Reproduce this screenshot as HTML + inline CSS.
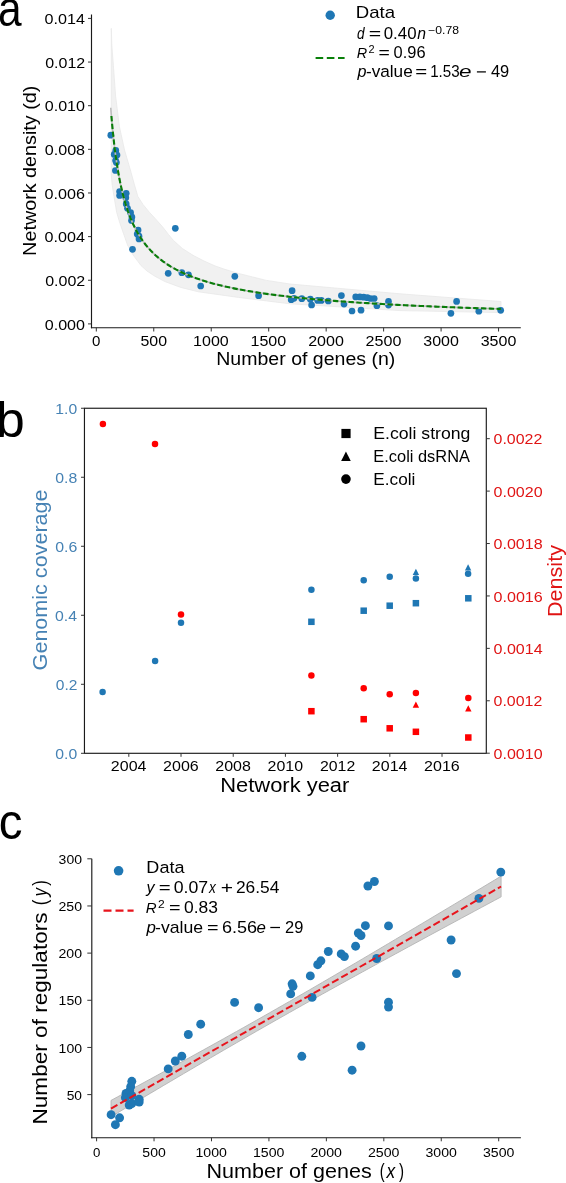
<!DOCTYPE html>
<html><head><meta charset="utf-8"><style>
html,body{margin:0;padding:0;background:#fff;}
svg{display:block;will-change:transform;}
text{font-family:"Liberation Sans",sans-serif;}
</style></head><body>
<svg width="566" height="1183" viewBox="0 0 566 1183">
<rect width="566" height="1183" fill="#fff"/>
<text x="-1.95" y="26.2" font-size="49.26" textLength="23.6" lengthAdjust="spacingAndGlyphs" fill="#000" style="">a</text>
<polygon points="111.3,28.4 111.8,45 113.4,65.7 115.6,96 119.4,126.5 124.5,150 130.4,170 134.5,185 137.9,196.5 143,204.5 149.5,212.4 157,220.5 163.5,228 168.5,234.5 173.5,240.5 182.4,248.5 193,255.3 204,261 215,265.9 224.1,269.1 238.3,273.4 252.4,276.9 266.5,280.4 290,284 400,293.8 501,301.5 501,312.6 400,310.6 290,303.8 266.5,300.9 238.3,297.4 210,293.4 198.3,291.8 180.7,287.4 165,281.6 154.8,276.2 147,271 141,265.6 133.1,255 127.5,245 123.6,233.8 119.5,222 116.7,212.4 114,196.5 112.2,185 111.3,175" fill="#f1f1f1" stroke="#e9e9e9" stroke-width="0.8"/>
<circle cx="110.8" cy="135.2" r="3.35" fill="#1f77b4"/>
<circle cx="115.8" cy="150.4" r="3.35" fill="#1f77b4"/>
<circle cx="114.2" cy="154.4" r="3.35" fill="#1f77b4"/>
<circle cx="117" cy="155" r="3.35" fill="#1f77b4"/>
<circle cx="115.6" cy="160.6" r="3.35" fill="#1f77b4"/>
<circle cx="116.4" cy="162.6" r="3.35" fill="#1f77b4"/>
<circle cx="115.4" cy="170.5" r="3.35" fill="#1f77b4"/>
<circle cx="119.6" cy="191.5" r="3.35" fill="#1f77b4"/>
<circle cx="119.6" cy="195.5" r="3.35" fill="#1f77b4"/>
<circle cx="126.2" cy="193.3" r="3.35" fill="#1f77b4"/>
<circle cx="125.8" cy="197.7" r="3.35" fill="#1f77b4"/>
<circle cx="126.2" cy="203.9" r="3.35" fill="#1f77b4"/>
<circle cx="127.5" cy="208.3" r="3.35" fill="#1f77b4"/>
<circle cx="130.6" cy="212.7" r="3.35" fill="#1f77b4"/>
<circle cx="131.9" cy="217.1" r="3.35" fill="#1f77b4"/>
<circle cx="131.5" cy="220.5" r="3.35" fill="#1f77b4"/>
<circle cx="138.1" cy="230" r="3.35" fill="#1f77b4"/>
<circle cx="137.2" cy="234" r="3.35" fill="#1f77b4"/>
<circle cx="139" cy="236.2" r="3.35" fill="#1f77b4"/>
<circle cx="139" cy="238.9" r="3.35" fill="#1f77b4"/>
<circle cx="132.5" cy="249.3" r="3.35" fill="#1f77b4"/>
<circle cx="175.3" cy="228.3" r="3.35" fill="#1f77b4"/>
<circle cx="168.2" cy="273.3" r="3.35" fill="#1f77b4"/>
<circle cx="181.8" cy="272.7" r="3.35" fill="#1f77b4"/>
<circle cx="188.5" cy="274.8" r="3.35" fill="#1f77b4"/>
<circle cx="200.7" cy="286" r="3.35" fill="#1f77b4"/>
<circle cx="234.8" cy="276.3" r="3.35" fill="#1f77b4"/>
<circle cx="258.6" cy="295.7" r="3.35" fill="#1f77b4"/>
<circle cx="292.1" cy="290.7" r="3.35" fill="#1f77b4"/>
<circle cx="291.2" cy="299.7" r="3.35" fill="#1f77b4"/>
<circle cx="294" cy="298.3" r="3.35" fill="#1f77b4"/>
<circle cx="301.8" cy="298.7" r="3.35" fill="#1f77b4"/>
<circle cx="310.3" cy="299.2" r="3.35" fill="#1f77b4"/>
<circle cx="311.6" cy="305" r="3.35" fill="#1f77b4"/>
<circle cx="317.7" cy="300.4" r="3.35" fill="#1f77b4"/>
<circle cx="321.3" cy="300.4" r="3.35" fill="#1f77b4"/>
<circle cx="328.3" cy="301" r="3.35" fill="#1f77b4"/>
<circle cx="341.4" cy="295.6" r="3.35" fill="#1f77b4"/>
<circle cx="344" cy="304.1" r="3.35" fill="#1f77b4"/>
<circle cx="352" cy="311" r="3.35" fill="#1f77b4"/>
<circle cx="361" cy="310.2" r="3.35" fill="#1f77b4"/>
<circle cx="355.7" cy="296.9" r="3.35" fill="#1f77b4"/>
<circle cx="359.9" cy="296.9" r="3.35" fill="#1f77b4"/>
<circle cx="363.6" cy="297.2" r="3.35" fill="#1f77b4"/>
<circle cx="367.3" cy="297.7" r="3.35" fill="#1f77b4"/>
<circle cx="370.5" cy="298.5" r="3.35" fill="#1f77b4"/>
<circle cx="374.2" cy="298.5" r="3.35" fill="#1f77b4"/>
<circle cx="376.9" cy="305.7" r="3.35" fill="#1f77b4"/>
<circle cx="388.5" cy="301.4" r="3.35" fill="#1f77b4"/>
<circle cx="388.5" cy="305.1" r="3.35" fill="#1f77b4"/>
<circle cx="456.6" cy="301.4" r="3.35" fill="#1f77b4"/>
<circle cx="450.9" cy="313.3" r="3.35" fill="#1f77b4"/>
<circle cx="478.8" cy="311.2" r="3.35" fill="#1f77b4"/>
<circle cx="500.7" cy="310.3" r="3.35" fill="#1f77b4"/>
<polyline points="110.75,107.8 110.93,110.13 111.11,112.4 111.29,114.62 111.47,116.78 111.65,118.89 111.83,120.96 112.01,122.97 112.19,124.94 112.37,126.86 112.55,128.74 112.73,130.58 112.92,132.37 113.1,134.13 113.28,135.86 113.46,137.54 113.64,139.19 113.82,140.81 114,142.39 114.18,143.95 114.36,145.47 114.54,146.96 114.72,148.42 114.9,149.86 115.08,151.27 115.26,152.65 115.44,154 115.62,155.34 115.8,156.64 115.98,157.93 116.16,159.19 116.34,160.43 116.52,161.64 116.7,162.84 116.88,164.01 117.06,165.17 117.24,166.31 117.42,167.42 117.6,168.52 117.79,169.6 117.97,170.67 118.15,171.71 118.33,172.75 118.51,173.76 118.69,174.76 118.87,175.74 119.05,176.71 119.23,177.66 119.41,178.6 119.59,179.53 119.77,180.44 119.95,181.34 120.13,182.22 120.31,183.09 120.49,183.95 120.67,184.8 120.85,185.64 121.03,186.46 121.21,187.27 121.39,188.08 121.57,188.87 121.75,189.65 121.93,190.42 122.11,191.18 122.29,191.93 122.47,192.67 122.66,193.4 122.84,194.12 123.02,194.83 123.2,195.53 123.38,196.22 123.56,196.91 123.74,197.59 123.92,198.25 124.1,198.91 124.28,199.57 124.46,200.21 124.64,200.85 124.82,201.47 125,202.1 125.5,203.78 128.02,211.51 130.54,218.17 133.06,223.98 135.58,229.1 138.1,233.65 140.62,237.73 143.14,241.4 145.66,244.73 148.18,247.76 150.69,250.54 153.21,253.1 155.73,255.46 158.25,257.64 160.77,259.67 163.29,261.57 165.81,263.34 168.33,265 170.85,266.56 173.37,268.02 175.89,269.41 178.41,270.72 180.93,271.95 183.45,273.13 185.97,274.24 188.49,275.31 191.01,276.32 193.53,277.28 196.04,278.2 198.56,279.08 201.08,279.93 203.6,280.74 206.12,281.51 208.64,282.26 211.16,282.97 213.68,283.66 216.2,284.32 218.72,284.96 221.24,285.58 223.76,286.17 226.28,286.74 228.8,287.3 231.32,287.84 233.84,288.35 236.36,288.86 238.88,289.34 241.4,289.82 243.91,290.27 246.43,290.72 248.95,291.15 251.47,291.57 253.99,291.98 256.51,292.37 259.03,292.76 261.55,293.13 264.07,293.5 266.59,293.85 269.11,294.2 271.63,294.54 274.15,294.86 276.67,295.19 279.19,295.5 281.71,295.81 284.23,296.1 286.75,296.4 289.27,296.68 291.78,296.96 294.3,297.23 296.82,297.5 299.34,297.76 301.86,298.01 304.38,298.26 306.9,298.51 309.42,298.75 311.94,298.98 314.46,299.21 316.98,299.44 319.5,299.66 322.02,299.87 324.54,300.08 327.06,300.29 329.58,300.5 332.1,300.7 334.62,300.89 337.13,301.09 339.65,301.28 342.17,301.46 344.69,301.64 347.21,301.82 349.73,302 352.25,302.17 354.77,302.34 357.29,302.51 359.81,302.68 362.33,302.84 364.85,303 367.37,303.15 369.89,303.31 372.41,303.46 374.93,303.61 377.45,303.76 379.97,303.9 382.49,304.04 385,304.18 387.52,304.32 390.04,304.46 392.56,304.59 395.08,304.72 397.6,304.85 400.12,304.98 402.64,305.11 405.16,305.23 407.68,305.36 410.2,305.48 412.72,305.6 415.24,305.72 417.76,305.83 420.28,305.95 422.8,306.06 425.32,306.17 427.84,306.28 430.36,306.39 432.87,306.5 435.39,306.6 437.91,306.71 440.43,306.81 442.95,306.91 445.47,307.01 447.99,307.11 450.51,307.21 453.03,307.31 455.55,307.4 458.07,307.5 460.59,307.59 463.11,307.68 465.63,307.78 468.15,307.87 470.67,307.95 473.19,308.04 475.71,308.13 478.22,308.22 480.74,308.3 483.26,308.38 485.78,308.47 488.3,308.55 490.82,308.63 493.34,308.71 495.86,308.79 498.38,308.87 500.9,308.95" fill="none" stroke="#bdbdbd" stroke-width="1.6"/>
<polyline points="111.41,116 111.58,118.03 111.75,120.02 111.92,121.96 112.09,123.86 112.27,125.72 112.44,127.54 112.61,129.32 112.78,131.06 112.96,132.77 113.13,134.44 113.3,136.08 113.47,137.68 113.64,139.25 113.82,140.8 113.99,142.31 114.16,143.79 114.33,145.25 114.5,146.68 114.68,148.08 114.85,149.45 115.02,150.8 115.19,152.13 115.36,153.43 115.54,154.71 115.71,155.97 115.88,157.21 116.05,158.42 116.22,159.62 116.4,160.79 116.57,161.95 116.74,163.09 116.91,164.2 117.08,165.3 117.26,166.39 117.43,167.45 117.6,168.5 117.77,169.53 117.95,170.55 118.12,171.55 118.29,172.54 118.46,173.51 118.63,174.46 118.81,175.4 118.98,176.33 119.15,177.25 119.32,178.15 119.49,179.04 119.67,179.92 119.84,180.78 120.01,181.63 120.18,182.47 120.35,183.3 120.53,184.12 120.7,184.93 120.87,185.72 121.04,186.51 121.21,187.28 121.39,188.05 121.56,188.8 121.73,189.55 121.9,190.29 122.07,191.01 122.25,191.73 122.42,192.44 122.59,193.14 122.76,193.83 122.94,194.51 123.11,195.18 123.28,195.85 123.45,196.51 123.62,197.16 123.8,197.8 123.97,198.44 124.14,199.06 124.31,199.68 124.48,200.3 124.66,200.9 124.83,201.5 125,202.1 125.5,203.78 128.02,211.51 130.54,218.17 133.06,223.98 135.58,229.1 138.1,233.65 140.62,237.73 143.14,241.4 145.66,244.73 148.18,247.76 150.69,250.54 153.21,253.1 155.73,255.46 158.25,257.64 160.77,259.67 163.29,261.57 165.81,263.34 168.33,265 170.85,266.56 173.37,268.02 175.89,269.41 178.41,270.72 180.93,271.95 183.45,273.13 185.97,274.24 188.49,275.31 191.01,276.32 193.53,277.28 196.04,278.2 198.56,279.08 201.08,279.93 203.6,280.74 206.12,281.51 208.64,282.26 211.16,282.97 213.68,283.66 216.2,284.32 218.72,284.96 221.24,285.58 223.76,286.17 226.28,286.74 228.8,287.3 231.32,287.84 233.84,288.35 236.36,288.86 238.88,289.34 241.4,289.82 243.91,290.27 246.43,290.72 248.95,291.15 251.47,291.57 253.99,291.98 256.51,292.37 259.03,292.76 261.55,293.13 264.07,293.5 266.59,293.85 269.11,294.2 271.63,294.54 274.15,294.86 276.67,295.19 279.19,295.5 281.71,295.81 284.23,296.1 286.75,296.4 289.27,296.68 291.78,296.96 294.3,297.23 296.82,297.5 299.34,297.76 301.86,298.01 304.38,298.26 306.9,298.51 309.42,298.75 311.94,298.98 314.46,299.21 316.98,299.44 319.5,299.66 322.02,299.87 324.54,300.08 327.06,300.29 329.58,300.5 332.1,300.7 334.62,300.89 337.13,301.09 339.65,301.28 342.17,301.46 344.69,301.64 347.21,301.82 349.73,302 352.25,302.17 354.77,302.34 357.29,302.51 359.81,302.68 362.33,302.84 364.85,303 367.37,303.15 369.89,303.31 372.41,303.46 374.93,303.61 377.45,303.76 379.97,303.9 382.49,304.04 385,304.18 387.52,304.32 390.04,304.46 392.56,304.59 395.08,304.72 397.6,304.85 400.12,304.98 402.64,305.11 405.16,305.23 407.68,305.36 410.2,305.48 412.72,305.6 415.24,305.72 417.76,305.83 420.28,305.95 422.8,306.06 425.32,306.17 427.84,306.28 430.36,306.39 432.87,306.5 435.39,306.6 437.91,306.71 440.43,306.81 442.95,306.91 445.47,307.01 447.99,307.11 450.51,307.21 453.03,307.31 455.55,307.4 458.07,307.5 460.59,307.59 463.11,307.68 465.63,307.78 468.15,307.87 470.67,307.95 473.19,308.04 475.71,308.13 478.22,308.22 480.74,308.3 483.26,308.38 485.78,308.47 488.3,308.55 490.82,308.63 493.34,308.71 495.86,308.79 498.38,308.87 500.9,308.95" fill="none" stroke="#0a7d0a" stroke-width="2.1" stroke-dasharray="5.4 2.4"/>
<line x1="91.5" y1="14.6" x2="91.5" y2="328.3" stroke="#1a1a1a" stroke-width="1.15" />
<line x1="90.9" y1="327.7" x2="520.8" y2="327.7" stroke="#1a1a1a" stroke-width="1.15" />
<line x1="88" y1="323.9" x2="91.5" y2="323.9" stroke="#333" stroke-width="1" />
<text x="44.72" y="329.5" font-size="15.12" textLength="40.29" lengthAdjust="spacingAndGlyphs" fill="#000" style="">0.000</text>
<line x1="88" y1="280.26" x2="91.5" y2="280.26" stroke="#333" stroke-width="1" />
<text x="45.22" y="285.86" font-size="15.12" textLength="40.02" lengthAdjust="spacingAndGlyphs" fill="#000" style="">0.002</text>
<line x1="88" y1="236.62" x2="91.5" y2="236.62" stroke="#333" stroke-width="1" />
<text x="44.57" y="242.22" font-size="15.12" textLength="40.35" lengthAdjust="spacingAndGlyphs" fill="#000" style="">0.004</text>
<line x1="88" y1="192.98" x2="91.5" y2="192.98" stroke="#333" stroke-width="1" />
<text x="44.64" y="198.58" font-size="15.12" textLength="40.44" lengthAdjust="spacingAndGlyphs" fill="#000" style="">0.006</text>
<line x1="88" y1="149.34" x2="91.5" y2="149.34" stroke="#333" stroke-width="1" />
<text x="44.72" y="154.94" font-size="15.12" textLength="40.37" lengthAdjust="spacingAndGlyphs" fill="#000" style="">0.008</text>
<line x1="88" y1="105.7" x2="91.5" y2="105.7" stroke="#333" stroke-width="1" />
<text x="44.72" y="111.3" font-size="15.12" textLength="40.29" lengthAdjust="spacingAndGlyphs" fill="#000" style="">0.010</text>
<line x1="88" y1="62.06" x2="91.5" y2="62.06" stroke="#333" stroke-width="1" />
<text x="45.22" y="67.66" font-size="15.12" textLength="40.02" lengthAdjust="spacingAndGlyphs" fill="#000" style="">0.012</text>
<line x1="88" y1="18.42" x2="91.5" y2="18.42" stroke="#333" stroke-width="1" />
<text x="44.57" y="24.02" font-size="15.12" textLength="40.35" lengthAdjust="spacingAndGlyphs" fill="#000" style="">0.014</text>
<line x1="96.3" y1="327.7" x2="96.3" y2="331.5" stroke="#333" stroke-width="1" />
<text x="92.09" y="345.8" font-size="15.12" textLength="8.37" lengthAdjust="spacingAndGlyphs" fill="#000" style="">0</text>
<line x1="153.76" y1="327.7" x2="153.76" y2="331.5" stroke="#333" stroke-width="1" />
<text x="140.47" y="345.8" font-size="15.12" textLength="26.56" lengthAdjust="spacingAndGlyphs" fill="#000" style="">500</text>
<line x1="211.23" y1="327.7" x2="211.23" y2="331.5" stroke="#333" stroke-width="1" />
<text x="193.08" y="345.8" font-size="15.12" textLength="35.65" lengthAdjust="spacingAndGlyphs" fill="#000" style="">1000</text>
<line x1="268.69" y1="327.7" x2="268.69" y2="331.5" stroke="#333" stroke-width="1" />
<text x="250.55" y="345.8" font-size="15.12" textLength="35.65" lengthAdjust="spacingAndGlyphs" fill="#000" style="">1500</text>
<line x1="326.16" y1="327.7" x2="326.16" y2="331.5" stroke="#333" stroke-width="1" />
<text x="308.16" y="345.8" font-size="15.12" textLength="35.75" lengthAdjust="spacingAndGlyphs" fill="#000" style="">2000</text>
<line x1="383.62" y1="327.7" x2="383.62" y2="331.5" stroke="#333" stroke-width="1" />
<text x="365.62" y="345.8" font-size="15.12" textLength="35.75" lengthAdjust="spacingAndGlyphs" fill="#000" style="">2500</text>
<line x1="441.09" y1="327.7" x2="441.09" y2="331.5" stroke="#333" stroke-width="1" />
<text x="423.25" y="345.8" font-size="15.12" textLength="35.59" lengthAdjust="spacingAndGlyphs" fill="#000" style="">3000</text>
<line x1="498.55" y1="327.7" x2="498.55" y2="331.5" stroke="#333" stroke-width="1" />
<text x="480.72" y="345.8" font-size="15.12" textLength="35.59" lengthAdjust="spacingAndGlyphs" fill="#000" style="">3500</text>
<text x="216.24" y="365.3" font-size="18.03" textLength="179.16" lengthAdjust="spacingAndGlyphs" fill="#000" style="">Number of genes (n)</text>
<text transform="translate(36.1 254.3) rotate(-90)" x="-1.58" y="0" font-size="18.03" textLength="170.25" lengthAdjust="spacingAndGlyphs" fill="#000" style="">Network density (d)</text>
<circle cx="330.2" cy="15.3" r="4.7" fill="#1f77b4"/>
<text x="355.71" y="17.9" font-size="16.4" textLength="39.33" lengthAdjust="spacingAndGlyphs" fill="#000" style="">Data</text>
<line x1="315.6" y1="58.0" x2="344.6" y2="58.0" stroke="#0a800a" stroke-width="2.1" stroke-dasharray="7.6 3.6"/>
<text x="357.02" y="39.2" font-size="16.25" textLength="7.58" lengthAdjust="spacingAndGlyphs" fill="#000" style="font-style:italic;">d</text>
<text x="368.74" y="39.2" font-size="14.23" textLength="12.4" lengthAdjust="spacingAndGlyphs" fill="#000" style="">=</text>
<text x="383.73" y="39.2" font-size="16.39" textLength="32.79" lengthAdjust="spacingAndGlyphs" fill="#000" style="">0.40</text>
<text x="417.36" y="39.2" font-size="16.07" textLength="8.76" lengthAdjust="spacingAndGlyphs" fill="#000" style="font-style:italic;">n</text>
<text x="428.19" y="34" font-size="10.15" textLength="30.9" lengthAdjust="spacingAndGlyphs" fill="#000" style="">−0.78</text>
<text x="356.87" y="58.4" font-size="15.13" textLength="10.4" lengthAdjust="spacingAndGlyphs" fill="#000" style="font-style:italic;">R</text>
<text x="368.45" y="52.5" font-size="10.78" textLength="6.11" lengthAdjust="spacingAndGlyphs" fill="#000" style="">2</text>
<text x="378.43" y="58.4" font-size="14.23" textLength="11.32" lengthAdjust="spacingAndGlyphs" fill="#000" style="">=</text>
<text x="393.64" y="58.4" font-size="16.39" textLength="31.93" lengthAdjust="spacingAndGlyphs" fill="#000" style="">0.96</text>
<text x="357.5" y="76.6" font-size="16.07" textLength="9" lengthAdjust="spacingAndGlyphs" fill="#000" style="font-style:italic;">p</text>
<text x="365.93" y="76.6" font-size="16.25" textLength="46.83" lengthAdjust="spacingAndGlyphs" fill="#000" style="">-value</text>
<text x="415.18" y="76.6" font-size="14.23" textLength="11.92" lengthAdjust="spacingAndGlyphs" fill="#000" style="">=</text>
<text x="430.16" y="76.6" font-size="16.39" textLength="29.46" lengthAdjust="spacingAndGlyphs" fill="#000" style="">1.53</text>
<text x="459.11" y="76.6" font-size="16.07" textLength="12.5" lengthAdjust="spacingAndGlyphs" fill="#000" style="font-style:italic;">e</text>
<line x1="476.9" y1="71.9" x2="485.9" y2="71.9" stroke="#000" stroke-width="1.25" />
<text x="490.97" y="76.6" font-size="16.39" textLength="18.31" lengthAdjust="spacingAndGlyphs" fill="#000" style="">49</text>
<text x="-4.14" y="437" font-size="49.79" textLength="28.77" lengthAdjust="spacingAndGlyphs" fill="#000" style="">b</text>
<circle cx="102.6" cy="692" r="3.25" fill="#1f77b4"/>
<circle cx="155.1" cy="660.9" r="3.25" fill="#1f77b4"/>
<circle cx="181" cy="622.8" r="3.25" fill="#1f77b4"/>
<circle cx="311.4" cy="589.7" r="3.25" fill="#1f77b4"/>
<circle cx="363.7" cy="580.3" r="3.25" fill="#1f77b4"/>
<circle cx="389.7" cy="576.7" r="3.25" fill="#1f77b4"/>
<circle cx="415.9" cy="578.5" r="3.25" fill="#1f77b4"/>
<circle cx="468.1" cy="573.8" r="3.25" fill="#1f77b4"/>
<rect x="308.15" y="618.55" width="6.5" height="6.5" fill="#1f77b4"/>
<rect x="360.45" y="607.45" width="6.5" height="6.5" fill="#1f77b4"/>
<rect x="386.45" y="602.45" width="6.5" height="6.5" fill="#1f77b4"/>
<rect x="412.65" y="599.95" width="6.5" height="6.5" fill="#1f77b4"/>
<rect x="465.05" y="595.05" width="6.5" height="6.5" fill="#1f77b4"/>
<path d="M415.9 568.7L412.7 575.1L419.1 575.1Z" fill="#1f77b4"/>
<path d="M468.1 564.2L464.9 570.6L471.3 570.6Z" fill="#1f77b4"/>
<circle cx="102.9" cy="424" r="3.25" fill="#ff0000"/>
<circle cx="155" cy="443.9" r="3.25" fill="#ff0000"/>
<circle cx="181" cy="614.5" r="3.25" fill="#ff0000"/>
<circle cx="311.4" cy="675.5" r="3.25" fill="#ff0000"/>
<circle cx="363.7" cy="688.3" r="3.25" fill="#ff0000"/>
<circle cx="389.7" cy="694.2" r="3.25" fill="#ff0000"/>
<circle cx="415.9" cy="693" r="3.25" fill="#ff0000"/>
<circle cx="468.3" cy="697.9" r="3.25" fill="#ff0000"/>
<path d="M415.9 701.4L412.7 707.8L419.1 707.8Z" fill="#ff0000"/>
<path d="M468.3 705.2L465.1 711.6L471.5 711.6Z" fill="#ff0000"/>
<rect x="308.15" y="707.95" width="6.5" height="6.5" fill="#ff0000"/>
<rect x="360.45" y="715.95" width="6.5" height="6.5" fill="#ff0000"/>
<rect x="386.45" y="725.05" width="6.5" height="6.5" fill="#ff0000"/>
<rect x="412.65" y="728.55" width="6.5" height="6.5" fill="#ff0000"/>
<rect x="465.05" y="734.25" width="6.5" height="6.5" fill="#ff0000"/>
<rect x="84.45" y="408.25" width="401.85" height="345.05" fill="none" stroke="#1a1a1a" stroke-width="1.15"/>
<line x1="81" y1="753.3" x2="84.45" y2="753.3" stroke="#333" stroke-width="1" />
<text x="55.24" y="758.75" font-size="15.01" textLength="21.92" lengthAdjust="spacingAndGlyphs" fill="#4682b4" style="">0.0</text>
<line x1="81" y1="684.29" x2="84.45" y2="684.29" stroke="#333" stroke-width="1" />
<text x="55.74" y="689.74" font-size="15.01" textLength="21.64" lengthAdjust="spacingAndGlyphs" fill="#4682b4" style="">0.2</text>
<line x1="81" y1="615.28" x2="84.45" y2="615.28" stroke="#333" stroke-width="1" />
<text x="55.09" y="620.73" font-size="15.01" textLength="21.98" lengthAdjust="spacingAndGlyphs" fill="#4682b4" style="">0.4</text>
<line x1="81" y1="546.27" x2="84.45" y2="546.27" stroke="#333" stroke-width="1" />
<text x="55.16" y="551.72" font-size="15.01" textLength="22.08" lengthAdjust="spacingAndGlyphs" fill="#4682b4" style="">0.6</text>
<line x1="81" y1="477.26" x2="84.45" y2="477.26" stroke="#333" stroke-width="1" />
<text x="55.23" y="482.71" font-size="15.01" textLength="22" lengthAdjust="spacingAndGlyphs" fill="#4682b4" style="">0.8</text>
<line x1="81" y1="408.25" x2="84.45" y2="408.25" stroke="#333" stroke-width="1" />
<text x="55.33" y="413.7" font-size="15.01" textLength="21.82" lengthAdjust="spacingAndGlyphs" fill="#4682b4" style="">1.0</text>
<line x1="486.3" y1="753.2" x2="489.8" y2="753.2" stroke="#333" stroke-width="1" />
<text x="493.56" y="758.9" font-size="15.01" textLength="49.04" lengthAdjust="spacingAndGlyphs" fill="#e01414" style="">0.0010</text>
<line x1="486.3" y1="700.78" x2="489.8" y2="700.78" stroke="#333" stroke-width="1" />
<text x="493.56" y="706.48" font-size="15.01" textLength="48.77" lengthAdjust="spacingAndGlyphs" fill="#e01414" style="">0.0012</text>
<line x1="486.3" y1="648.36" x2="489.8" y2="648.36" stroke="#333" stroke-width="1" />
<text x="493.56" y="654.06" font-size="15.01" textLength="49.1" lengthAdjust="spacingAndGlyphs" fill="#e01414" style="">0.0014</text>
<line x1="486.3" y1="595.94" x2="489.8" y2="595.94" stroke="#333" stroke-width="1" />
<text x="493.56" y="601.64" font-size="15.01" textLength="49.19" lengthAdjust="spacingAndGlyphs" fill="#e01414" style="">0.0016</text>
<line x1="486.3" y1="543.52" x2="489.8" y2="543.52" stroke="#333" stroke-width="1" />
<text x="493.56" y="549.22" font-size="15.01" textLength="49.12" lengthAdjust="spacingAndGlyphs" fill="#e01414" style="">0.0018</text>
<line x1="486.3" y1="491.1" x2="489.8" y2="491.1" stroke="#333" stroke-width="1" />
<text x="493.56" y="496.8" font-size="15.01" textLength="49.04" lengthAdjust="spacingAndGlyphs" fill="#e01414" style="">0.0020</text>
<line x1="486.3" y1="438.68" x2="489.8" y2="438.68" stroke="#333" stroke-width="1" />
<text x="493.56" y="444.38" font-size="15.01" textLength="48.77" lengthAdjust="spacingAndGlyphs" fill="#e01414" style="">0.0022</text>
<line x1="128.82" y1="753.3" x2="128.82" y2="756.8" stroke="#333" stroke-width="1" />
<text x="110.87" y="770.7" font-size="15.01" textLength="35.57" lengthAdjust="spacingAndGlyphs" fill="#000" style="">2004</text>
<line x1="181.02" y1="753.3" x2="181.02" y2="756.8" stroke="#333" stroke-width="1" />
<text x="163.11" y="770.7" font-size="15.01" textLength="35.66" lengthAdjust="spacingAndGlyphs" fill="#000" style="">2006</text>
<line x1="233.22" y1="753.3" x2="233.22" y2="756.8" stroke="#333" stroke-width="1" />
<text x="215.34" y="770.7" font-size="15.01" textLength="35.59" lengthAdjust="spacingAndGlyphs" fill="#000" style="">2008</text>
<line x1="285.42" y1="753.3" x2="285.42" y2="756.8" stroke="#333" stroke-width="1" />
<text x="267.55" y="770.7" font-size="15.01" textLength="35.5" lengthAdjust="spacingAndGlyphs" fill="#000" style="">2010</text>
<line x1="337.62" y1="753.3" x2="337.62" y2="756.8" stroke="#333" stroke-width="1" />
<text x="320" y="770.7" font-size="15.01" textLength="35.23" lengthAdjust="spacingAndGlyphs" fill="#000" style="">2012</text>
<line x1="389.82" y1="753.3" x2="389.82" y2="756.8" stroke="#333" stroke-width="1" />
<text x="371.87" y="770.7" font-size="15.01" textLength="35.57" lengthAdjust="spacingAndGlyphs" fill="#000" style="">2014</text>
<line x1="442.02" y1="753.3" x2="442.02" y2="756.8" stroke="#333" stroke-width="1" />
<text x="424.11" y="770.7" font-size="15.01" textLength="35.66" lengthAdjust="spacingAndGlyphs" fill="#000" style="">2016</text>
<text x="220.25" y="792.2" font-size="20.13" textLength="129.1" lengthAdjust="spacingAndGlyphs" fill="#000" style="">Network year</text>
<text transform="translate(47 669.3) rotate(-90)" x="-1.08" y="0" font-size="20.13" textLength="180.92" lengthAdjust="spacingAndGlyphs" fill="#4682b4" style="">Genomic coverage</text>
<text transform="translate(561.8 615.4) rotate(-90)" x="-1.73" y="0" font-size="20.13" textLength="72.12" lengthAdjust="spacingAndGlyphs" fill="#e01414" style="">Density</text>
<rect x="341.4" y="428.9" width="9.2" height="9.2" fill="#000"/>
<path d="M345.95 451.4L341.15 461L350.75 461Z" fill="#000"/>
<circle cx="345.95" cy="479.1" r="4.8" fill="#000"/>
<text x="373.29" y="438.8" font-size="16.04" textLength="97.1" lengthAdjust="spacingAndGlyphs" fill="#000" style="">E.coli strong</text>
<text x="373.39" y="461.9" font-size="16.04" textLength="96.52" lengthAdjust="spacingAndGlyphs" fill="#000" style="">E.coli dsRNA</text>
<text x="373.33" y="484.5" font-size="16.04" textLength="42" lengthAdjust="spacingAndGlyphs" fill="#000" style="">E.coli</text>
<text x="-1.16" y="838.5" font-size="49.26" textLength="23.75" lengthAdjust="spacingAndGlyphs" fill="#000" style="">c</text>
<polygon points="111,1100.43 117.61,1096.85 124.22,1093.26 130.84,1089.67 137.45,1086.08 144.06,1082.48 150.67,1078.88 157.28,1075.28 163.89,1071.66 170.51,1068.04 177.12,1064.42 183.73,1060.79 190.34,1057.15 196.95,1053.5 203.57,1049.85 210.18,1046.18 216.79,1042.51 223.4,1038.83 230.01,1035.13 236.63,1031.43 243.24,1027.72 249.85,1023.99 256.46,1020.26 263.07,1016.51 269.68,1012.75 276.3,1008.98 282.91,1005.2 289.52,1001.41 296.13,997.61 302.74,993.79 309.36,989.97 315.97,986.13 322.58,982.29 329.19,978.43 335.8,974.57 342.42,970.7 349.03,966.82 355.64,962.93 362.25,959.03 368.86,955.13 375.47,951.22 382.09,947.31 388.7,943.38 395.31,939.46 401.92,935.53 408.53,931.59 415.15,927.65 421.76,923.71 428.37,919.76 434.98,915.81 441.59,911.85 448.21,907.89 454.82,903.93 461.43,899.97 468.04,896 474.65,892.04 481.26,888.06 487.88,884.09 494.49,880.12 501.1,876.14 501.1,896.86 494.49,900.41 487.88,903.97 481.26,907.52 474.65,911.08 468.04,914.64 461.43,918.2 454.82,921.77 448.21,925.34 441.59,928.91 434.98,932.48 428.37,936.06 421.76,939.64 415.15,943.22 408.53,946.81 401.92,950.41 395.31,954 388.7,957.61 382.09,961.21 375.47,964.83 368.86,968.45 362.25,972.07 355.64,975.71 349.03,979.35 342.42,982.99 335.8,986.65 329.19,990.32 322.58,993.99 315.97,997.67 309.36,1001.37 302.74,1005.07 296.13,1008.78 289.52,1012.51 282.91,1016.25 276.3,1019.99 269.68,1023.75 263.07,1027.53 256.46,1031.31 249.85,1035.1 243.24,1038.91 236.63,1042.72 230.01,1046.55 223.4,1050.38 216.79,1054.23 210.18,1058.09 203.57,1061.95 196.95,1065.83 190.34,1069.71 183.73,1073.6 177.12,1077.49 170.51,1081.4 163.89,1085.31 157.28,1089.22 150.67,1093.14 144.06,1097.07 137.45,1101 130.84,1104.94 124.22,1108.88 117.61,1112.82 111,1116.77" fill="#d0d0d0" stroke="#b4b4b4" stroke-width="0.9"/>
<circle cx="131.8" cy="1081.3" r="4.45" fill="#1f77b4"/>
<circle cx="130.7" cy="1086.6" r="4.45" fill="#1f77b4"/>
<circle cx="129.7" cy="1090.8" r="4.45" fill="#1f77b4"/>
<circle cx="126" cy="1093.5" r="4.45" fill="#1f77b4"/>
<circle cx="125.4" cy="1097.7" r="4.45" fill="#1f77b4"/>
<circle cx="131.8" cy="1095.6" r="4.45" fill="#1f77b4"/>
<circle cx="129.2" cy="1105.1" r="4.45" fill="#1f77b4"/>
<circle cx="131.8" cy="1103.5" r="4.45" fill="#1f77b4"/>
<circle cx="139.2" cy="1099.3" r="4.45" fill="#1f77b4"/>
<circle cx="139.2" cy="1102" r="4.45" fill="#1f77b4"/>
<circle cx="111.1" cy="1114.7" r="4.45" fill="#1f77b4"/>
<circle cx="119.6" cy="1117.8" r="4.45" fill="#1f77b4"/>
<circle cx="115.4" cy="1124.7" r="4.45" fill="#1f77b4"/>
<circle cx="168.2" cy="1068.9" r="4.45" fill="#1f77b4"/>
<circle cx="175.3" cy="1061" r="4.45" fill="#1f77b4"/>
<circle cx="181.8" cy="1056.2" r="4.45" fill="#1f77b4"/>
<circle cx="188.3" cy="1034.5" r="4.45" fill="#1f77b4"/>
<circle cx="200.7" cy="1024.2" r="4.45" fill="#1f77b4"/>
<circle cx="234.6" cy="1002.4" r="4.45" fill="#1f77b4"/>
<circle cx="258.6" cy="1007.7" r="4.45" fill="#1f77b4"/>
<circle cx="292.1" cy="983.8" r="4.45" fill="#1f77b4"/>
<circle cx="293" cy="986.3" r="4.45" fill="#1f77b4"/>
<circle cx="290.7" cy="993.9" r="4.45" fill="#1f77b4"/>
<circle cx="310.3" cy="975.9" r="4.45" fill="#1f77b4"/>
<circle cx="312.1" cy="997.4" r="4.45" fill="#1f77b4"/>
<circle cx="317.7" cy="964.7" r="4.45" fill="#1f77b4"/>
<circle cx="320.9" cy="960.8" r="4.45" fill="#1f77b4"/>
<circle cx="328.3" cy="951.5" r="4.45" fill="#1f77b4"/>
<circle cx="341.2" cy="953.9" r="4.45" fill="#1f77b4"/>
<circle cx="344.4" cy="956.6" r="4.45" fill="#1f77b4"/>
<circle cx="355.6" cy="946.2" r="4.45" fill="#1f77b4"/>
<circle cx="358.3" cy="933" r="4.45" fill="#1f77b4"/>
<circle cx="361" cy="935.5" r="4.45" fill="#1f77b4"/>
<circle cx="365.4" cy="925.7" r="4.45" fill="#1f77b4"/>
<circle cx="367.9" cy="886" r="4.45" fill="#1f77b4"/>
<circle cx="374.4" cy="881.5" r="4.45" fill="#1f77b4"/>
<circle cx="376.7" cy="958.5" r="4.45" fill="#1f77b4"/>
<circle cx="388.5" cy="925.9" r="4.45" fill="#1f77b4"/>
<circle cx="388.5" cy="1002.2" r="4.45" fill="#1f77b4"/>
<circle cx="388.5" cy="1007.1" r="4.45" fill="#1f77b4"/>
<circle cx="301.8" cy="1056.3" r="4.45" fill="#1f77b4"/>
<circle cx="361" cy="1046" r="4.45" fill="#1f77b4"/>
<circle cx="352.1" cy="1070.2" r="4.45" fill="#1f77b4"/>
<circle cx="451.1" cy="940" r="4.45" fill="#1f77b4"/>
<circle cx="456.5" cy="973.6" r="4.45" fill="#1f77b4"/>
<circle cx="478.9" cy="898.4" r="4.45" fill="#1f77b4"/>
<circle cx="500.8" cy="872.1" r="4.45" fill="#1f77b4"/>
<line x1="111" y1="1108.6" x2="501.1" y2="886.5" stroke="#e8141c" stroke-width="2.0" stroke-dasharray="7.4 3.2"/>
<line x1="91.8" y1="858.8" x2="91.8" y2="1138.3" stroke="#1a1a1a" stroke-width="1.15" />
<line x1="91.2" y1="1137.7" x2="520.9" y2="1137.7" stroke="#1a1a1a" stroke-width="1.15" />
<line x1="87.3" y1="1094.6" x2="91.8" y2="1094.6" stroke="#333" stroke-width="1" />
<text x="66.71" y="1099.8" font-size="13.32" textLength="15.3" lengthAdjust="spacingAndGlyphs" fill="#000" style="">50</text>
<line x1="87.3" y1="1047.44" x2="91.8" y2="1047.44" stroke="#333" stroke-width="1" />
<text x="58.58" y="1052.64" font-size="13.32" textLength="23.46" lengthAdjust="spacingAndGlyphs" fill="#000" style="">100</text>
<line x1="87.3" y1="1000.28" x2="91.8" y2="1000.28" stroke="#333" stroke-width="1" />
<text x="58.58" y="1005.48" font-size="13.32" textLength="23.46" lengthAdjust="spacingAndGlyphs" fill="#000" style="">150</text>
<line x1="87.3" y1="953.12" x2="91.8" y2="953.12" stroke="#333" stroke-width="1" />
<text x="58.49" y="958.32" font-size="13.32" textLength="23.55" lengthAdjust="spacingAndGlyphs" fill="#000" style="">200</text>
<line x1="87.3" y1="905.96" x2="91.8" y2="905.96" stroke="#333" stroke-width="1" />
<text x="58.49" y="911.16" font-size="13.32" textLength="23.55" lengthAdjust="spacingAndGlyphs" fill="#000" style="">250</text>
<line x1="87.3" y1="858.8" x2="91.8" y2="858.8" stroke="#333" stroke-width="1" />
<text x="58.64" y="864" font-size="13.32" textLength="23.4" lengthAdjust="spacingAndGlyphs" fill="#000" style="">300</text>
<line x1="96.6" y1="1137.7" x2="96.6" y2="1141.3" stroke="#333" stroke-width="1" />
<text x="92.89" y="1156.6" font-size="13.32" textLength="7.37" lengthAdjust="spacingAndGlyphs" fill="#000" style="">0</text>
<line x1="154.04" y1="1137.7" x2="154.04" y2="1141.3" stroke="#333" stroke-width="1" />
<text x="142.33" y="1156.6" font-size="13.32" textLength="23.4" lengthAdjust="spacingAndGlyphs" fill="#000" style="">500</text>
<line x1="211.49" y1="1137.7" x2="211.49" y2="1141.3" stroke="#333" stroke-width="1" />
<text x="195.5" y="1156.6" font-size="13.32" textLength="31.41" lengthAdjust="spacingAndGlyphs" fill="#000" style="">1000</text>
<line x1="268.93" y1="1137.7" x2="268.93" y2="1141.3" stroke="#333" stroke-width="1" />
<text x="252.94" y="1156.6" font-size="13.32" textLength="31.41" lengthAdjust="spacingAndGlyphs" fill="#000" style="">1500</text>
<line x1="326.37" y1="1137.7" x2="326.37" y2="1141.3" stroke="#333" stroke-width="1" />
<text x="310.51" y="1156.6" font-size="13.32" textLength="31.5" lengthAdjust="spacingAndGlyphs" fill="#000" style="">2000</text>
<line x1="383.82" y1="1137.7" x2="383.82" y2="1141.3" stroke="#333" stroke-width="1" />
<text x="367.96" y="1156.6" font-size="13.32" textLength="31.5" lengthAdjust="spacingAndGlyphs" fill="#000" style="">2500</text>
<line x1="441.26" y1="1137.7" x2="441.26" y2="1141.3" stroke="#333" stroke-width="1" />
<text x="425.54" y="1156.6" font-size="13.32" textLength="31.36" lengthAdjust="spacingAndGlyphs" fill="#000" style="">3000</text>
<line x1="498.7" y1="1137.7" x2="498.7" y2="1141.3" stroke="#333" stroke-width="1" />
<text x="482.99" y="1156.6" font-size="13.32" textLength="31.36" lengthAdjust="spacingAndGlyphs" fill="#000" style="">3500</text>
<text x="206.58" y="1178.4" font-size="20.23" textLength="165.1" lengthAdjust="spacingAndGlyphs" fill="#000" style="">Number of genes</text>
<text x="379.72" y="1178.4" font-size="20.23" textLength="4.9" lengthAdjust="spacingAndGlyphs" fill="#000" style="">(</text>
<text x="386.49" y="1178.4" font-size="19.85" textLength="8.68" lengthAdjust="spacingAndGlyphs" fill="#000" style="font-style:italic;">x</text>
<text x="399.02" y="1178.4" font-size="20.23" textLength="5.03" lengthAdjust="spacingAndGlyphs" fill="#000" style="">)</text>
<text transform="translate(47.3 1122.7) rotate(-90)" x="-1.81" y="0" font-size="20.23" textLength="212.06" lengthAdjust="spacingAndGlyphs" fill="#000" style="">Number of regulators</text>
<text transform="translate(47.3 1122.7) rotate(-90)" x="217.4" y="0" font-size="20.23" textLength="5.53" lengthAdjust="spacingAndGlyphs" fill="#000" style="">(</text>
<text transform="translate(47.3 1122.7) rotate(-90)" x="226.14" y="0" font-size="19.85" textLength="8.51" lengthAdjust="spacingAndGlyphs" fill="#000" style="font-style:italic;">y</text>
<text transform="translate(47.3 1122.7) rotate(-90)" x="236.92" y="0" font-size="20.23" textLength="5.66" lengthAdjust="spacingAndGlyphs" fill="#000" style="">)</text>
<circle cx="118.6" cy="870.8" r="4.8" fill="#1f77b4"/>
<text x="146.36" y="873.1" font-size="16.08" textLength="38.08" lengthAdjust="spacingAndGlyphs" fill="#000" style="">Data</text>
<line x1="103.5" y1="910.6" x2="133.6" y2="910.6" stroke="#e8141c" stroke-width="2.1" stroke-dasharray="8 4"/>
<text x="146.58" y="893.4" font-size="15.63" textLength="8.02" lengthAdjust="spacingAndGlyphs" fill="#000" style="font-style:italic;">y</text>
<text x="158.68" y="893.4" font-size="13.96" textLength="11.92" lengthAdjust="spacingAndGlyphs" fill="#000" style="">=</text>
<text x="173.79" y="893.4" font-size="16.07" textLength="34.41" lengthAdjust="spacingAndGlyphs" fill="#000" style="">0.07</text>
<text x="209.05" y="893.4" font-size="15.63" textLength="6.84" lengthAdjust="spacingAndGlyphs" fill="#000" style="font-style:italic;">x</text>
<text x="220.65" y="893.4" font-size="16.38" textLength="12.28" lengthAdjust="spacingAndGlyphs" fill="#000" style="">+</text>
<text x="235.93" y="893.4" font-size="16.07" textLength="43.43" lengthAdjust="spacingAndGlyphs" fill="#000" style="">26.54</text>
<text x="145.65" y="913.4" font-size="14.92" textLength="10.83" lengthAdjust="spacingAndGlyphs" fill="#000" style="font-style:italic;">R</text>
<text x="157.9" y="907.6" font-size="10.78" textLength="6.72" lengthAdjust="spacingAndGlyphs" fill="#000" style="">2</text>
<text x="168.91" y="913.3" font-size="13.96" textLength="11.56" lengthAdjust="spacingAndGlyphs" fill="#000" style="">=</text>
<text x="184" y="913.3" font-size="16.07" textLength="33.92" lengthAdjust="spacingAndGlyphs" fill="#000" style="">0.83</text>
<text x="146.52" y="932.6" font-size="15.76" textLength="9.4" lengthAdjust="spacingAndGlyphs" fill="#000" style="font-style:italic;">p</text>
<text x="155.11" y="932.6" font-size="15.93" textLength="48.07" lengthAdjust="spacingAndGlyphs" fill="#000" style="">-value</text>
<text x="207.01" y="932.6" font-size="13.96" textLength="11.56" lengthAdjust="spacingAndGlyphs" fill="#000" style="">=</text>
<text x="221.9" y="932.6" font-size="16.07" textLength="35.04" lengthAdjust="spacingAndGlyphs" fill="#000" style="">6.56</text>
<text x="256.41" y="932.6" font-size="15.76" textLength="9.4" lengthAdjust="spacingAndGlyphs" fill="#000" style="font-style:italic;">e</text>
<line x1="270.3" y1="927.5" x2="280" y2="927.5" stroke="#000" stroke-width="1.25" />
<text x="285.08" y="932.6" font-size="16.07" textLength="18.3" lengthAdjust="spacingAndGlyphs" fill="#000" style="">29</text>
</svg>
</body></html>
